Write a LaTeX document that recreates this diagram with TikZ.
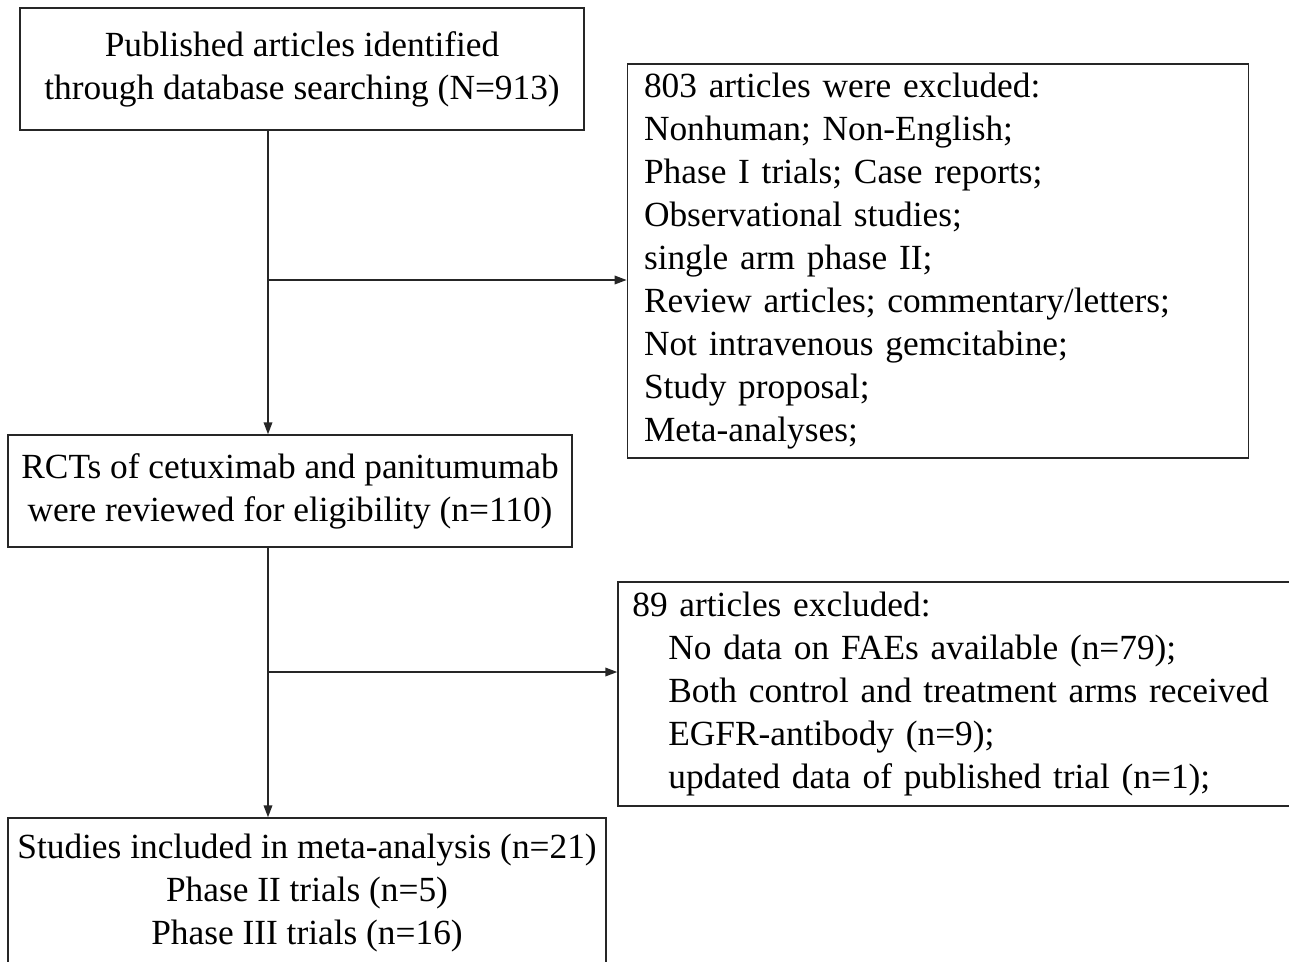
\documentclass[tikz,border=0pt]{standalone}
\usepackage{fontspec}
\setmainfont{Liberation Serif}
\usetikzlibrary{arrows.meta}
\begin{document}
\begin{tikzpicture}[x=0.75pt,y=-0.75pt,
  box/.style={draw=black!85,line width=1.1pt,rectangle,inner sep=0pt,
    font=\fontsize{26.5}{32.2}\selectfont},
  conn/.style={draw=black!85,line width=1.1pt},
  arr/.style={conn,-{Triangle[length=9pt,width=6.5pt]}}]
\useasboundingbox (0,0) rectangle (1289,961);
\node[box,minimum width=423pt,minimum height=91.5pt,align=center] (src) at (302,69)
  {Published articles identified\\through database searching (N=913)};
\node[box,minimum width=465pt,minimum height=295.5pt,text width=441pt,inner xsep=12.5pt,align=left] (ex1) at (938,261)
  {803 articles were excluded:\\Nonhuman; Non-English;\\Phase I trials; Case reports;\\Observational studies;\\single arm phase II;\\Review articles; commentary/letters;\\Not intravenous gemcitabine;\\Study proposal;\\Meta-analyses;};
\node[box,minimum width=423pt,minimum height=84pt,align=center] (rct) at (290,491)
  {RCTs of cetuximab and panitumumab\\were reviewed for eligibility (n=110)};
\node[box,minimum width=511.5pt,minimum height=168pt,text width=490pt,inner xsep=10.5pt,align=left] (ex2) at (959,694)
  {89 articles excluded:\\\hspace*{27pt}No data on FAEs available (n=79);\\\hspace*{27pt}Both control and treatment arms received\\\hspace*{27pt}EGFR-antibody (n=9);\\\hspace*{27pt}updated data of published trial (n=1);};
\node[box,minimum width=448.5pt,minimum height=112.5pt,align=center] (inc) at (307,893)
  {Studies included in meta-analysis (n=21)\\Phase II trials (n=5)\\Phase III trials (n=16)};
\coordinate (j1) at (268,280);
\coordinate (j2) at (268,672);
\draw[arr] (src.south -| j1) -- (rct.north -| j1);
\draw[arr] (j1) -- (ex1.west |- j1);
\draw[arr] (rct.south -| j2) -- (inc.north -| j2);
\draw[arr] (j2) -- (ex2.west |- j2);
\end{tikzpicture}
\end{document}
